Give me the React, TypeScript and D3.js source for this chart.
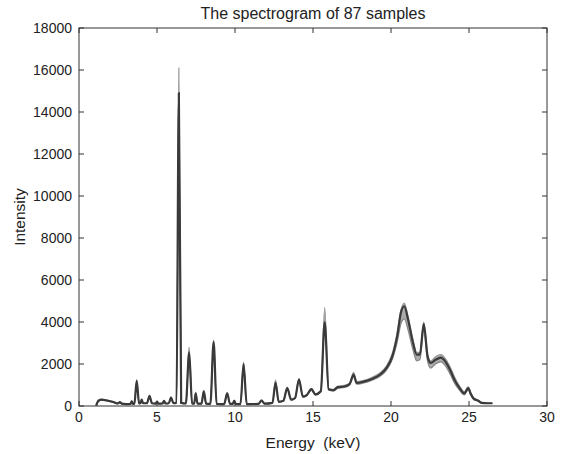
import { useMemo } from 'react'
import * as d3 from 'd3'

// energy grid (keV) and the spread of the 87 spectra at each point
const energy = [
  1.1, 1.25, 1.45, 1.8, 2.2, 2.5, 2.62, 2.75, 3.0,
  3.3, 3.38, 3.46, 3.55, 3.7, 3.85, 3.95, 4.02, 4.1, 4.35, 4.52, 4.68,
  4.9, 5.0, 5.1, 5.35, 5.45, 5.55, 5.75, 5.9, 6.05,
  6.25, 6.4, 6.55, 6.85, 7.06, 7.25, 7.38, 7.48, 7.6,
  7.85, 8.0, 8.15, 8.42, 8.63, 8.82, 9.3, 9.5, 9.68, 9.85, 9.95, 10.05,
  10.35, 10.55, 10.75, 11.5, 11.7, 11.9, 12.4, 12.6, 12.8,
  13.1, 13.35, 13.6, 13.85, 14.1, 14.35, 14.6, 14.9, 15.15, 15.5, 15.75, 16.0,
  16.3, 16.6, 17.0, 17.35, 17.6, 17.8, 18.2, 18.8, 19.3, 19.7,
  20.1, 20.4, 20.65, 20.85, 21.1, 21.4, 21.65, 21.85, 22.1, 22.35, 22.55,
  22.85, 23.2, 23.5, 23.8, 24.1, 24.4, 24.7, 24.95, 25.1, 25.3, 25.6, 25.8, 26.2, 26.5,
]

const typical = [
  20, 250, 300, 260, 190, 120, 180, 110, 90,
  100, 220, 100, 110, 1200, 120, 150, 300, 140, 130, 470, 130,
  110, 210, 110, 120, 240, 120, 130, 400, 140,
  150, 14900, 150, 120, 2550, 120, 110, 600, 110,
  110, 700, 110, 100, 3050, 100, 90, 600, 100, 100, 250, 100,
  90, 2000, 90, 100, 260, 110, 150, 1120, 200,
  250, 850, 300, 380, 1260, 450, 520, 800, 550, 700, 4000, 800,
  750, 900, 930, 1050, 1500, 1100, 1150, 1300, 1500, 1800,
  2400, 3350, 4500, 4750, 4100, 3050, 2450, 2450, 3900, 2350, 2050,
  2200, 2300, 2100, 1700, 1200, 850, 600, 850, 600, 350, 250, 150, 130, 130,
]

const lowest = [
  10, 230, 280, 240, 175, 110, 160, 100, 80,
  90, 200, 90, 100, 1130, 110, 140, 270, 130, 120, 430, 120,
  100, 190, 100, 110, 220, 110, 120, 360, 130,
  140, 14400, 140, 110, 2400, 110, 100, 560, 100,
  100, 650, 100, 90, 2950, 90, 80, 560, 90, 90, 230, 90,
  80, 1930, 80, 90, 230, 100, 140, 1020, 190,
  230, 800, 280, 360, 1200, 420, 490, 760, 520, 660, 3750, 760,
  710, 850, 880, 1000, 1400, 1040, 1090, 1230, 1420, 1700,
  2250, 3050, 3950, 4150, 3600, 2700, 2150, 2200, 3600, 2100, 1800,
  2000, 2100, 1900, 1500, 1050, 750, 530, 780, 540, 310, 220, 130, 120, 120,
]

const highest = [
  30, 270, 320, 280, 205, 130, 200, 120, 100,
  110, 240, 110, 120, 1260, 130, 160, 330, 150, 140, 520, 140,
  120, 230, 120, 130, 260, 130, 140, 440, 150,
  160, 16100, 160, 130, 2800, 130, 120, 660, 120,
  120, 750, 120, 110, 3150, 110, 100, 650, 110, 110, 280, 110,
  100, 2080, 100, 110, 290, 120, 160, 1250, 210,
  270, 900, 320, 400, 1320, 480, 550, 840, 580, 740, 4700, 840,
  790, 950, 980, 1100, 1600, 1160, 1210, 1370, 1580, 1900,
  2550, 3500, 4600, 4900, 4250, 3200, 2550, 2550, 4000, 2450, 2150,
  2350, 2450, 2250, 1850, 1350, 950, 680, 920, 660, 390, 280, 170, 140, 140,
]

const xTicks = [0, 5, 10, 15, 20, 25, 30]
const yTicks = [0, 2000, 4000, 6000, 8000, 10000, 12000, 14000, 16000, 18000]

const W = 566
const H = 454
const margin = { top: 28, right: 19, bottom: 48, left: 79 }
const font = '"Liberation Sans", Arial, Helvetica, sans-serif'

export default function App() {
  const innerW = W - margin.left - margin.right
  const innerH = H - margin.top - margin.bottom

  const x = d3.scaleLinear().domain([0, 30]).range([0, innerW])
  const y = d3.scaleLinear().domain([0, 18000]).range([innerH, 0])

  const idx = useMemo(() => energy.map((_, i) => i), [])

  const band = d3.area<number>()
    .x(i => x(energy[i]))
    .y0(i => y(lowest[i]))
    .y1(i => y(highest[i]))
    .curve(d3.curveMonotoneX)

  const lineOf = (vals: number[]) =>
    d3.line<number>()
      .x(i => x(energy[i]))
      .y(i => y(vals[i]))
      .curve(d3.curveMonotoneX)(idx) || ''

  const tick = 5
  const axisColor = '#333'

  return (
    <svg width={W} height={H} style={{ position: 'absolute', left: 0, top: 0, background: '#fff' }}>
      <text x={margin.left + innerW / 2} y={19} textAnchor="middle" fontFamily={font} fontSize={16} fill="#222">
        The spectrogram of 87 samples
      </text>
      <g transform={`translate(${margin.left},${margin.top})`}>
        <path d={band(idx) || ''} fill="#ababab" />
        <path d={lineOf(highest)} fill="none" stroke="#9a9a9a" strokeWidth={1.2} />
        <path d={lineOf(lowest)} fill="none" stroke="#858585" strokeWidth={1.2} />
        <path d={lineOf(typical)} fill="none" stroke="#3a3a3a" strokeWidth={2.2} />

        <rect x={0} y={0} width={innerW} height={innerH} fill="none" stroke={axisColor} strokeWidth={1} />
        {xTicks.map(t => (
          <g key={`x${t}`}>
            <line x1={x(t)} x2={x(t)} y1={innerH} y2={innerH - tick} stroke={axisColor} />
            <line x1={x(t)} x2={x(t)} y1={0} y2={tick} stroke={axisColor} />
            <text x={x(t)} y={innerH + 16} textAnchor="middle" fontFamily={font} fontSize={14} fill="#222">
              {t}
            </text>
          </g>
        ))}
        {yTicks.map(t => (
          <g key={`y${t}`}>
            <line x1={0} x2={tick} y1={y(t)} y2={y(t)} stroke={axisColor} />
            <line x1={innerW} x2={innerW - tick} y1={y(t)} y2={y(t)} stroke={axisColor} />
            <text x={-7} y={y(t) + 5} textAnchor="end" fontFamily={font} fontSize={14} fill="#222">
              {t}
            </text>
          </g>
        ))}
        <text x={innerW / 2} y={innerH + 42} textAnchor="middle" fontFamily={font} fontSize={15.5} fill="#222"
          style={{ whiteSpace: 'pre' }}>
          {'Energy  (keV)'}
        </text>
        <text
          transform={`translate(${-54},${innerH / 2}) rotate(-90)`}
          textAnchor="middle"
          fontFamily={font}
          fontSize={15.5}
          fill="#222"
        >
          Intensity
        </text>
      </g>
    </svg>
  )
}
